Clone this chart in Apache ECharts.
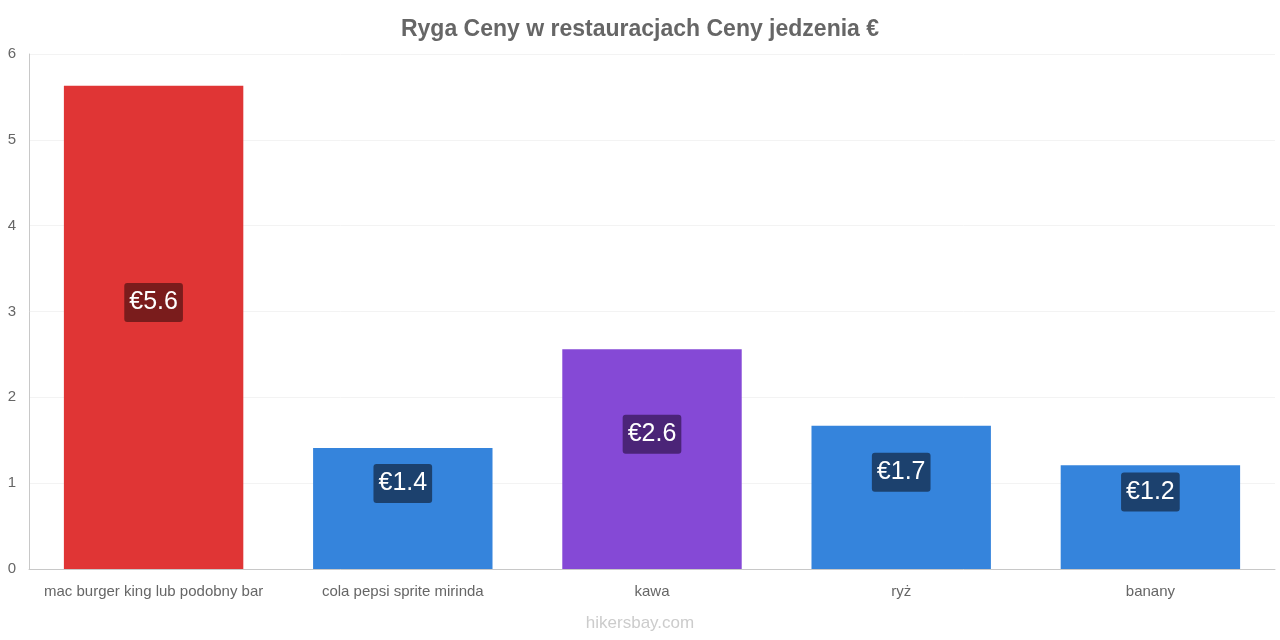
<!DOCTYPE html>
<html>
<head>
<meta charset="utf-8">
<title>Ryga Ceny w restauracjach</title>
<script src="https://cdn.jsdelivr.net/npm/echarts@6/dist/echarts.min.js"></script>
<style>
    html, body { margin: 0; padding: 0; background: #fff; }
    #chart { width: 1280px; height: 640px; }
</style>
</head>
<body>
<div id="chart"></div>
<script>
    // dane
    var categories = ['mac burger king lub podobny bar', 'cola pepsi sprite mirinda', 'kawa', 'ryż', 'banany'];
    var prices     = [5.63, 1.41, 2.56, 1.67, 1.21];
    var priceText  = ['€5.6', '€1.4', '€2.6', '€1.7', '€1.2'];
    var barColors  = ['#e03535', '#3584dc', '#8549d6', '#3584dc', '#3584dc'];
    var tagColors  = ['#7a1c1c', '#1c416e', '#4b2478', '#1c416e', '#1c416e'];
    var yTicks     = [0, 6, 1]; // min, max, interval

    var myChart = echarts.init(document.getElementById('chart'));

    var barData = prices.map(function (v, i) {
        return {
            value    : v,
            itemStyle: {color: barColors[i]},
            label    : {backgroundColor: tagColors[i]}
        };
    });

    var option = {
        animation: false,
        textStyle: {fontFamily: 'Liberation Sans, Arial, sans-serif'},
        title    : {
            text     : 'Ryga Ceny w restauracjach Ceny jedzenia €',
            left     : 'center',
            top      : 13,
            textStyle: {fontSize: 23, fontWeight: 'bold', color: '#666'}
        },
        graphic  : [{
            type : 'text',
            left : 'center',
            top  : 615,
            style: {text: 'hikersbay.com', fontSize: 17, fill: '#ccc', fontFamily: 'Liberation Sans, Arial, sans-serif'}
        }],
        grid     : {left: 29, right: 5, top: 54, bottom: 71},
        xAxis    : {
            type     : 'category',
            data     : categories,
            axisLine : {lineStyle: {color: '#c8c8c8'}},
            axisTick : {show: false},
            axisLabel: {color: '#666', fontSize: 15, margin: 15, interval: 0}
        },
        yAxis    : {
            type     : 'value',
            min      : yTicks[0],
            max      : yTicks[1],
            interval : yTicks[2],
            axisLine : {show: true, lineStyle: {color: '#c8c8c8'}},
            axisTick : {show: false},
            splitLine: {lineStyle: {color: '#f3f3f3'}},
            axisLabel: {color: '#666', fontSize: 15, margin: 13}
        },
        series   : [{
            type          : 'bar',
            data          : barData,
            barCategoryGap: '28%',
            label         : {
                show        : true,
                position    : 'inside',
                offset      : [0, -25],
                color       : '#fff',
                fontSize    : 25,
                padding     : [8, 5, 6, 5],
                borderRadius: 3,
                formatter   : function (p) {
                    return priceText[p.dataIndex];
                }
            }
        }]
    };

    myChart.setOption(option);
</script>
</body>
</html>
